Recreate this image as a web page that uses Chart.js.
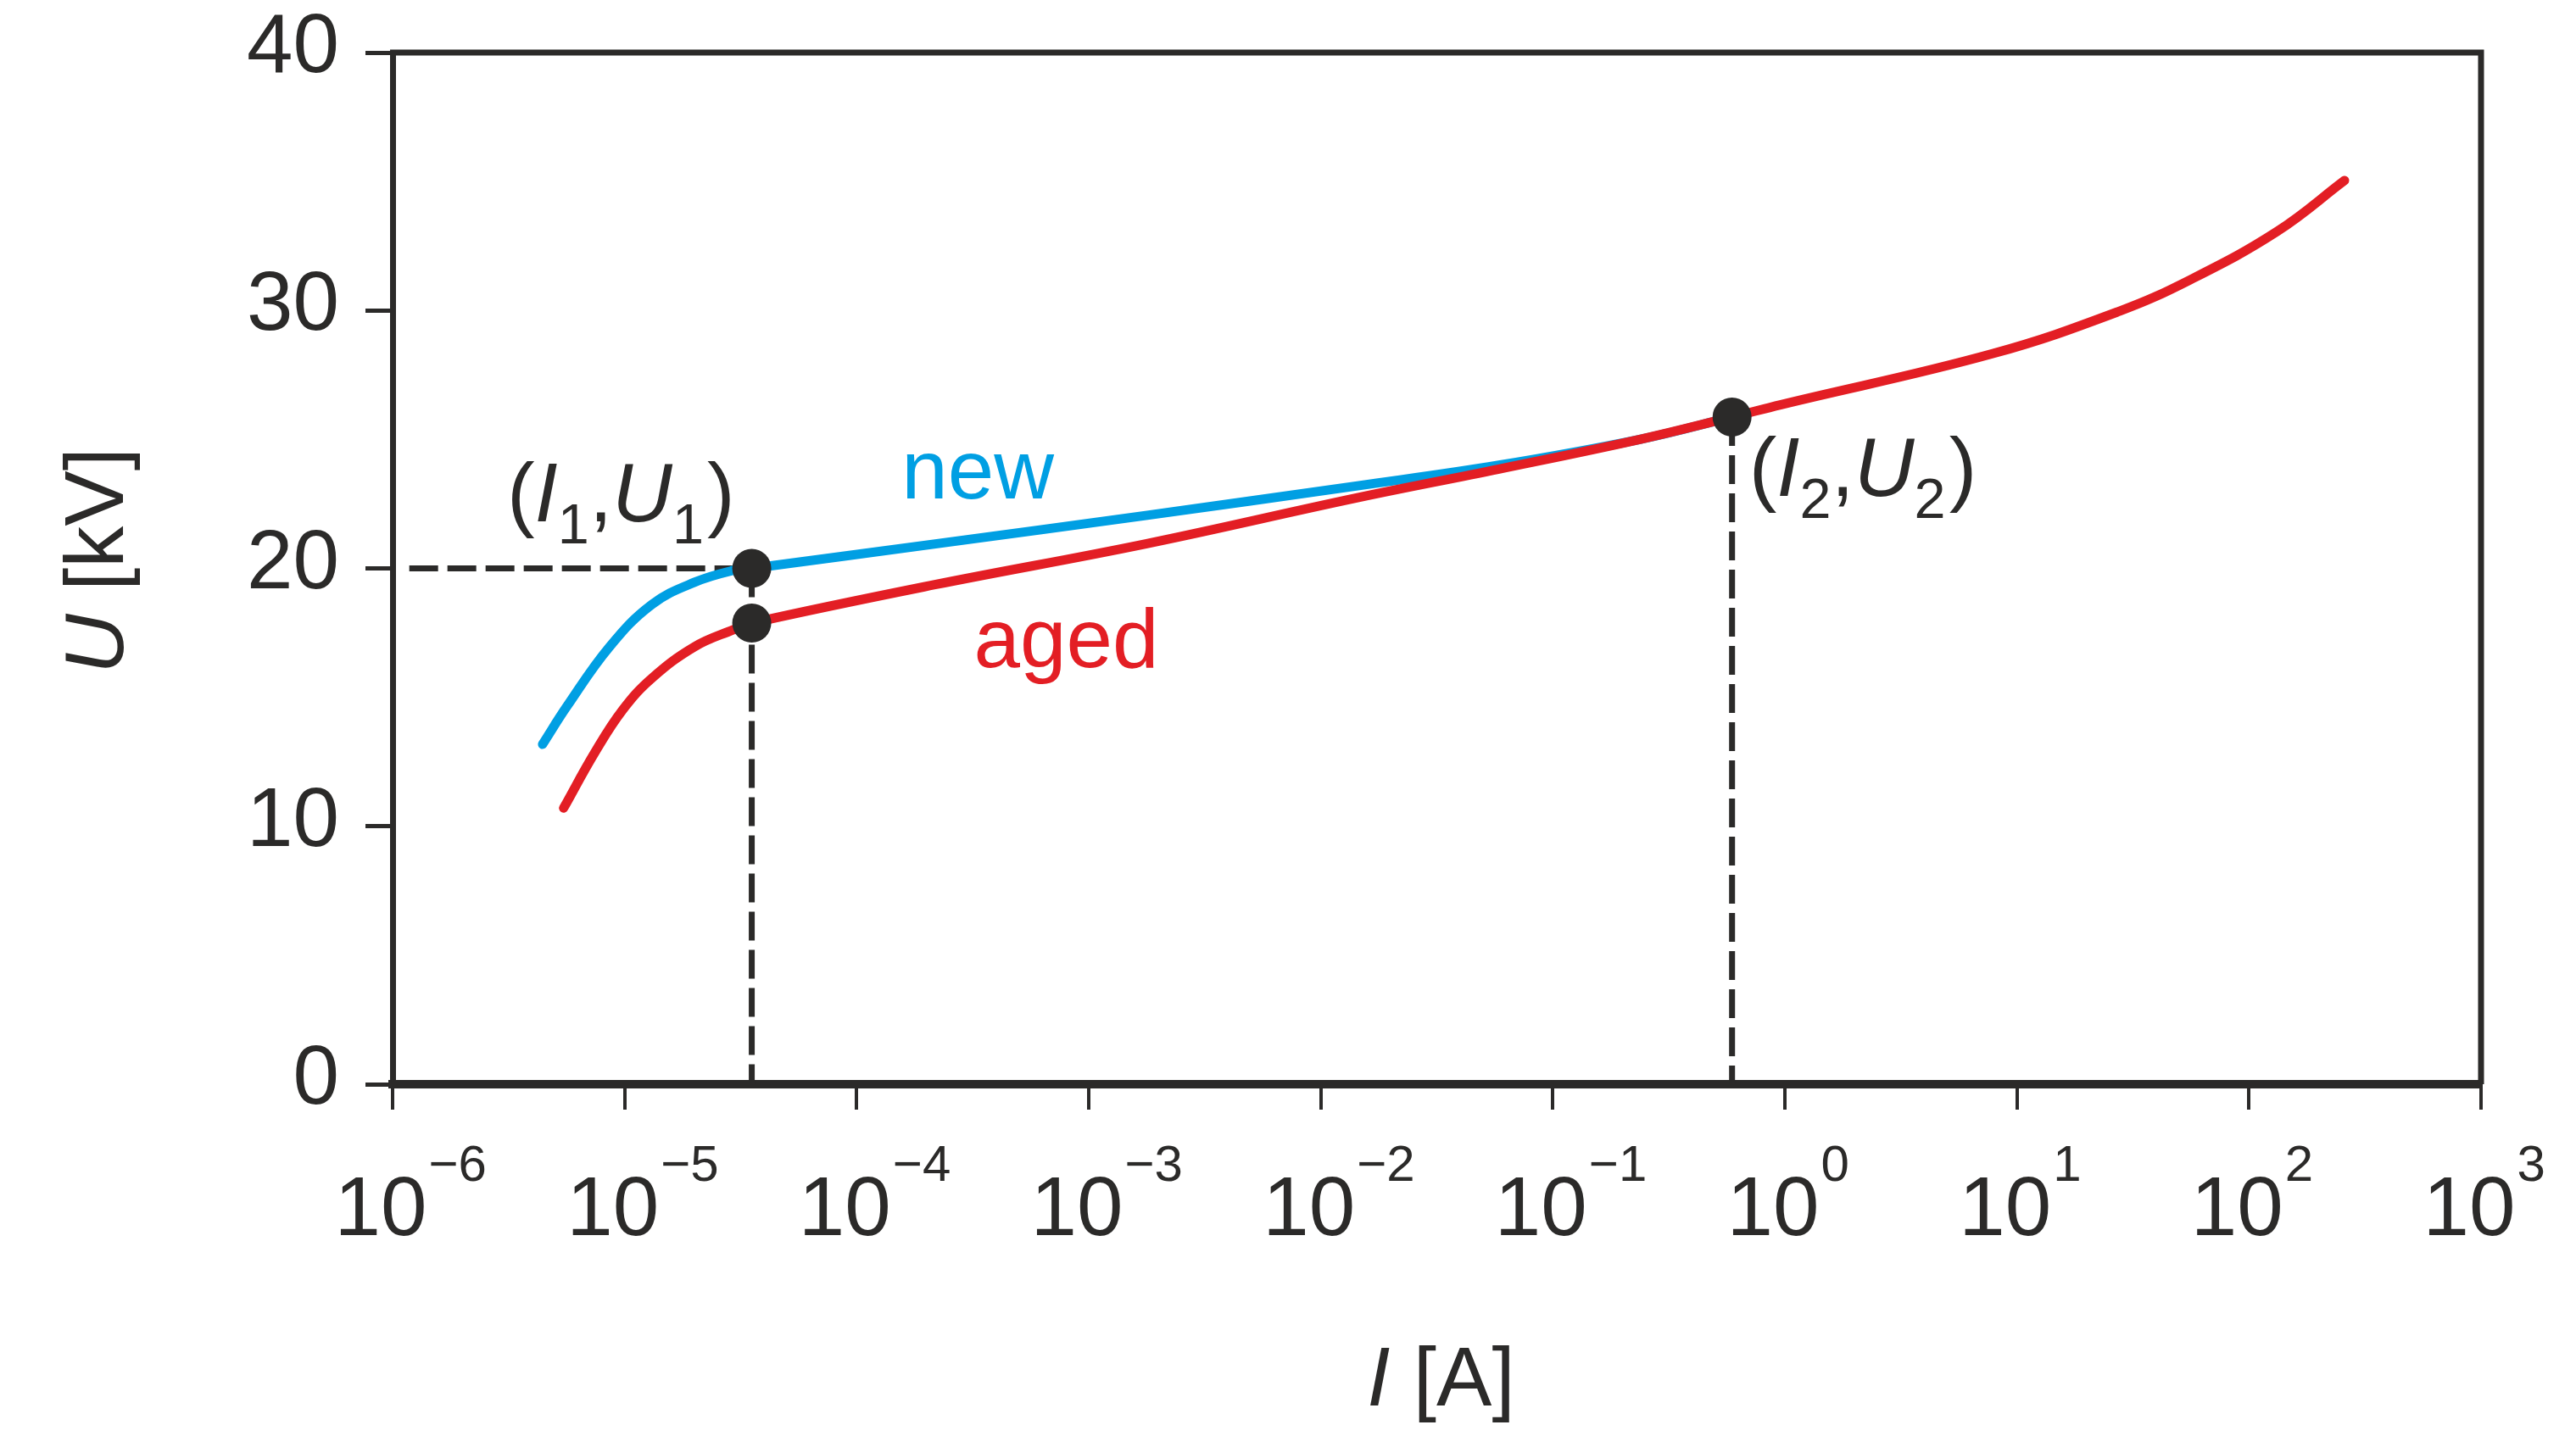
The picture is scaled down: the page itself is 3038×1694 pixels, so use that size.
<!DOCTYPE html>
<html>
<head>
<meta charset="utf-8">
<title>U-I characteristic</title>
<script src="https://cdn.jsdelivr.net/npm/chart.js@4.4.1/dist/chart.umd.min.js"></script>
<style>
    html, body { margin: 0; padding: 0; background: #ffffff; }
    #wrap { width: 3038px; height: 1694px; position: relative; }
</style>
</head>
<body>
<div id="wrap"><canvas id="uiChart"></canvas></div>
<script>
// values: current in A, voltage in kV
const decadeExponents = [-6, -5, -4, -3, -2, -1, 0, 1, 2, 3];
const voltageTicks = [0, 10, 20, 30, 40];

const newCurrent = [4.43e-6, 5.65e-6, 8.61e-6, 1.31e-5, 2.0e-5, 2.94e-5, 3.53e-5, 2.15e-4, 1.76e-3, 1.44e-2, 5.86e-2, 0.237, 0.592];
const newVoltage = [13.18, 14.66, 16.96, 18.6, 19.46, 19.92, 20.0, 20.94, 22.05, 23.2, 24.0, 25.0, 25.87];

const agedCurrent = [5.46e-6, 7.46e-6, 9.84e-6, 1.31e-5, 2.0e-5, 2.94e-5, 3.53e-5, 2.15e-4, 1.76e-3, 1.44e-2, 5.86e-2, 0.237, 0.592, 0.964, 7.89, 27.8, 55.8, 132, 258];
const agedVoltage = [10.71, 12.88, 14.53, 15.74, 16.96, 17.62, 17.88, 19.36, 20.95, 22.74, 23.85, 25.0, 25.87, 26.35, 28.33, 29.98, 31.19, 33.06, 35.04];

const I1 = 3.53e-5, U1 = 20.0, U1aged = 17.88;
const I2 = 0.592, U2 = 25.87;
const guideStart = 1.18e-6;

const DARK = "#2b2a29";
const BLUE = "#009fe3";
const RED = "#e31e24";
const FONT = '"Liberation Sans", Arial, Helvetica, sans-serif';

function pts(xs, ys) {
    return xs.map((x, i) => ({ x: x, y: ys[i] }));
}

// draws text pieces one after another (italic letters, subscripts)
function drawRuns(ctx, runs, x, y, size) {
    let cx = x;
    runs.forEach(r => {
        const s = r.sub ? size * 0.68 : size;
        ctx.font = (r.it ? "italic " : "") + s + "px " + FONT;
        ctx.fillText(r.t, cx, y + (r.sub ? size * 0.27 : 0));
        cx += ctx.measureText(r.t).width + (r.gap || 0);
    });
    return cx - x;
}
function runsWidth(ctx, runs, size) {
    let w = 0;
    runs.forEach(r => {
        const s = r.sub ? size * 0.68 : size;
        ctx.font = (r.it ? "italic " : "") + s + "px " + FONT;
        w += ctx.measureText(r.t).width + (r.gap || 0);
    });
    return w;
}

const labelsPlugin = {
    id: "labels",
    beforeDatasetsDraw(chart) {
        const { ctx, chartArea } = chart;
        ctx.save();
        ctx.strokeStyle = DARK;
        ctx.lineWidth = 7;
        ctx.beginPath();
        ctx.moveTo(chartArea.left - 3, chartArea.top);
        ctx.lineTo(chartArea.right, chartArea.top);
        ctx.lineTo(chartArea.right, chartArea.bottom);
        ctx.stroke();
        ctx.restore();
    },
    afterDraw(chart) {
        const { ctx } = chart;
        const xs = chart.scales.x;
        const ys = chart.scales.y;
        const size = 98;
        ctx.save();
        ctx.fillStyle = DARK;

        // y tick labels
        ctx.font = size + "px " + FONT;
        ctx.textAlign = "right";
        ctx.textBaseline = "middle";
        voltageTicks.forEach(v => {
            ctx.fillText(String(v), 400, ys.getPixelForValue(v) - 4);
        });

        // x tick labels 10^n
        ctx.textAlign = "left";
        ctx.textBaseline = "alphabetic";
        decadeExponents.forEach(e => {
            const px = xs.getPixelForValue(Math.pow(10, e));
            ctx.font = size + "px " + FONT;
            const w = ctx.measureText("10").width;
            const left = px - 14 - w / 2;
            ctx.fillText("10", left, 1457);
            ctx.font = "60px " + FONT;
            ctx.fillText(e < 0 ? "\u2212" + (-e) : String(e), left + w + 2, 1393);
        });

        // axis titles
        const yTitle = [{ t: "U", it: true }, { t: " [kV]" }];
        const wy = runsWidth(ctx, yTitle, size);
        ctx.save();
        ctx.translate(145, ys.getPixelForValue(20) - 9);
        ctx.rotate(-Math.PI / 2);
        drawRuns(ctx, yTitle, -wy / 2, 0, size);
        ctx.restore();

        const xTitle = [{ t: "I", it: true }, { t: " [A]" }];
        const wx = runsWidth(ctx, xTitle, size);
        drawRuns(ctx, xTitle, (xs.left + xs.right) / 2 + 5 - wx / 2, 1658, size);

        // point annotations
        const p1 = [{ t: "(" }, { t: "I", it: true }, { t: "1", sub: true }, { t: "," }, { t: "U", it: true }, { t: "1", sub: true, gap: 4 }, { t: ")" }];
        const p2 = [{ t: "(" }, { t: "I", it: true }, { t: "2", sub: true }, { t: "," }, { t: "U", it: true }, { t: "2", sub: true, gap: 4 }, { t: ")" }];
        const x1 = xs.getPixelForValue(I1), y1 = ys.getPixelForValue(U1);
        drawRuns(ctx, p1, x1 - 20 - runsWidth(ctx, p1, size), y1 - 56, size);
        const x2 = xs.getPixelForValue(I2), y2 = ys.getPixelForValue(U2);
        drawRuns(ctx, p2, x2 + 20, y2 + 93, size);

        // curve names
        ctx.font = size + "px " + FONT;
        ctx.fillStyle = BLUE;
        ctx.fillText("new", xs.getPixelForValue(1.56e-4), ys.getPixelForValue(22.71));
        ctx.fillStyle = RED;
        ctx.fillText("aged", xs.getPixelForValue(3.2e-4), ys.getPixelForValue(16.17));
        ctx.restore();
    }
};

const guideStyle = {
    showLine: true,
    borderColor: DARK,
    borderWidth: 7,
    borderDash: [34, 11],
    pointRadius: 0,
    order: 4
};

const curveStyle = {
    showLine: true,
    borderWidth: 11,
    borderCapStyle: "round",
    borderJoinStyle: "round",
    tension: 0.4,
    pointRadius: 0
};

new Chart(document.getElementById("uiChart"), {
    type: "scatter",
    data: {
        datasets: [
            {
                label: "markers",
                data: pts([I1, I1, I2], [U1, U1aged, U2]),
                pointRadius: 23,
                pointBackgroundColor: DARK,
                pointBorderWidth: 0,
                order: 0
            },
            Object.assign({ label: "aged", data: pts(agedCurrent, agedVoltage), borderColor: RED, order: 1 }, curveStyle),
            Object.assign({ label: "new", data: pts(newCurrent, newVoltage), borderColor: BLUE, order: 2 }, curveStyle),
            Object.assign({ label: "U1 guide", data: pts([guideStart, I1], [U1, U1]) }, guideStyle),
            Object.assign({ label: "I1 guide", data: pts([I1, I1], [U1, 0]) }, guideStyle),
            Object.assign({ label: "I2 guide", data: pts([I2, I2], [U2, 0]) }, guideStyle)
        ]
    },
    options: {
        responsive: true,
        maintainAspectRatio: false,
        animation: false,
        layout: {
            padding: { left: 431, right: 112, top: 62, bottom: 385 }
        },
        plugins: {
            legend: { display: false },
            tooltip: { enabled: false }
        },
        scales: {
            x: {
                type: "logarithmic",
                min: 1e-6,
                max: 1e3,
                afterBuildTicks: scale => {
                    scale.ticks = decadeExponents.map(e => ({ value: Math.pow(10, e) }));
                },
                ticks: { display: false },
                grid: {
                    display: true,
                    drawOnChartArea: false,
                    drawTicks: true,
                    tickLength: 30,
                    tickWidth: 4,
                    lineWidth: 4,
                    tickColor: DARK,
                    color: DARK
                },
                border: { display: true, color: DARK, width: 10 }
            },
            y: {
                type: "linear",
                min: 0,
                max: 40,
                afterBuildTicks: scale => {
                    scale.ticks = voltageTicks.map(v => ({ value: v }));
                },
                ticks: { display: false },
                grid: {
                    display: true,
                    drawOnChartArea: false,
                    drawTicks: true,
                    tickLength: 32,
                    tickWidth: 5,
                    lineWidth: 5,
                    tickColor: DARK,
                    color: DARK
                },
                border: { display: true, color: DARK, width: 7 }
            }
        }
    },
    plugins: [labelsPlugin]
});
</script>
</body>
</html>
